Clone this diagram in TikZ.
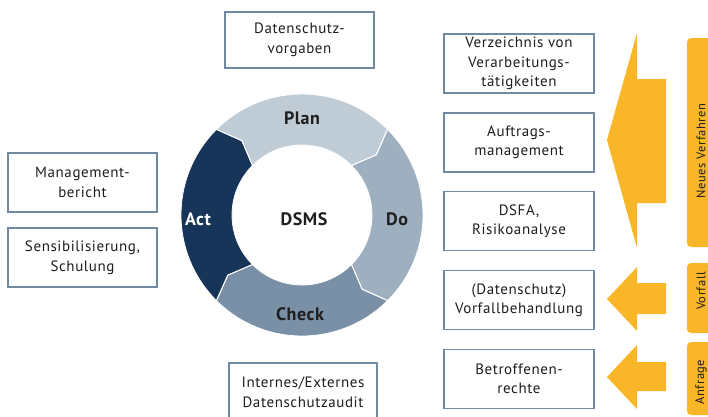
\documentclass[tikz,border=0pt]{standalone}
\usepackage{fontspec}
\setmainfont{PT Sans}
\newfontfamily\boxfont[LetterSpace=4]{PT Sans}
\newfontfamily\ringfont[LetterSpace=3]{PT Sans}
\definecolor{boxc}{RGB}{112,138,164}
\definecolor{plancol}{RGB}{191,204,214}
\definecolor{docol}{RGB}{158,176,192}
\definecolor{checkcol}{RGB}{121,144,167}
\definecolor{actcol}{RGB}{23,52,89}
\definecolor{orng}{RGB}{249,182,40}
\definecolor{txt}{RGB}{30,30,30}
\begin{document}
\begin{tikzpicture}[x=1pt,y=-1pt,
  infobox/.style={draw=boxc, line width=1.3pt, fill=white, minimum width=149pt, minimum height=58pt,
    align=center, inner sep=0pt, text=txt, font=\boxfont\fontsize{15}{19.5}\selectfont},
  seg/.style={draw=white, line width=0.8pt, line join=round},
  ringlabel/.style={font=\ringfont\fontsize{18}{20}\selectfont\bfseries, text=txt},
  tablabel/.style={rotate=90, font=\boxfont\fontsize{12.5}{14}\selectfont, text=txt},
  orangetab/.style={fill=orng, rounded corners=4pt}]
\useasboundingbox (0,0) rectangle (708,416);
\clip (0,0) rectangle (708,416);

% ring
\begin{scope}[shift={(302,215)}, yscale=-1]
  \fill[seg, fill=plancol] (135:121) arc[start angle=135, end angle=45, radius=121] -- (39:95.5) -- (45:70)
     arc[start angle=45, end angle=135, radius=70] -- (129:95.5) -- cycle;
  \fill[seg, fill=docol] (45:121) arc[start angle=45, end angle=-45, radius=121] -- (-51:95.5) -- (-45:70)
     arc[start angle=-45, end angle=45, radius=70] -- (39:95.5) -- cycle;
  \fill[seg, fill=checkcol] (-45:121) arc[start angle=-45, end angle=-135, radius=121] -- (-141:95.5) -- (-135:70)
     arc[start angle=-135, end angle=-45, radius=70] -- (-51:95.5) -- cycle;
  \fill[seg, fill=actcol] (-135:121) arc[start angle=-135, end angle=-225, radius=121] -- (-231:95.5) -- (-225:70)
     arc[start angle=-225, end angle=-135, radius=70] -- (-141:95.5) -- cycle;
  \draw[seg] (135:121) -- (129:95.5) -- (135:70);
  \draw[seg] (45:121) -- (39:95.5) -- (45:70);
  \draw[seg] (-45:121) -- (-51:95.5) -- (-45:70);
  \draw[seg] (-135:121) -- (-141:95.5) -- (-135:70);
\end{scope}

\node[ringlabel] (plan) at (302,118) {Plan};
\node[ringlabel] (do) at (397,219) {Do};
\node[ringlabel] (check) at (300,314) {Check};
\node[ringlabel, text=white] (act) at (198,219) {Act};
\node[ringlabel] (dsms) at (304,219) {DSMS};

% boxes
\node[infobox, minimum height=56pt] (vorg) at (299.5,40) {Datenschutz-\\vorgaben};
\node[infobox, minimum height=59pt] (mgmt) at (82.5,182.5) {Management-\\bericht};
\node[infobox, minimum height=59pt] (sens) at (82.5,257.5) {Sensibilisierung,\\Schulung};
\node[infobox, minimum width=150pt, minimum height=59pt] (verz) at (519,63.5) {Verzeichnis von\\Verarbeitungs-\\tätigkeiten};
\node[infobox, minimum width=150pt, minimum height=59pt] (auft) at (519,142.5) {Auftrags-\\management};
\node[infobox, minimum width=150pt, minimum height=59pt] (dsfa) at (519,221) {DSFA,\\Risikoanalyse};
\node[infobox, minimum width=150pt, minimum height=59pt] (vorf) at (519,300) {(Datenschutz)\\Vorfallbehandlung};
\node[infobox, minimum width=150pt, minimum height=59pt] (betr) at (519,379) {Betroffenen-\\rechte};
\node[infobox, minimum width=148pt, minimum height=58pt] (audit) at (303,392) {Internes/Externes\\Datenschutzaudit};

% orange arrows
\fill[orng] (607,140) -- (637,33) -- (637,79) -- (666,79) -- (666,203) -- (637,203) -- (637,248) -- cycle;
\fill[orng] (607,299) -- (637,267) -- (637,283) -- (666,283) -- (666,314) -- (637,314) -- (637,331) -- cycle;
\fill[orng] (607,377) -- (637,345) -- (637,362) -- (666,362) -- (666,391) -- (637,391) -- (637,409) -- cycle;

% orange tabs
\fill[orangetab] (687,38) rectangle (718,247);
\fill[orangetab] (687,263) rectangle (718,333);
\fill[orangetab] (687,342) rectangle (718,415);
\node[tablabel] (nv) at (701,151) {Neues Verfahren};
\node[tablabel] (vf) at (701,291) {Vorfall};
\node[tablabel] (an) at (701,382) {Anfrage};
\end{tikzpicture}
\end{document}
